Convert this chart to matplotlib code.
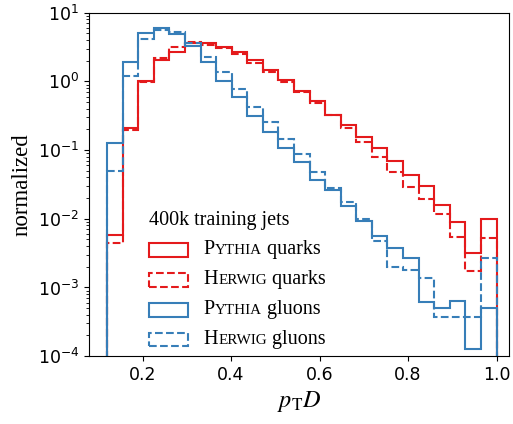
import numpy as np
import matplotlib
matplotlib.use("Agg")
import matplotlib.pyplot as plt
from matplotlib.patches import Rectangle
from matplotlib.offsetbox import TextArea, HPacker, VPacker, DrawingArea, AnchoredOffsetbox

SERIF = "Liberation Serif"
plt.rcParams["mathtext.fontset"] = "stix"

# 25 bins between 0.12 and 1.0
edges = np.linspace(0.12, 1.0, 26)

pythia_quarks = [0.0059, 0.21, 1.0, 2.05, 2.7, 3.6, 3.6, 3.2, 2.67, 2.07, 1.48, 1.05, 0.73,
                 0.51, 0.326, 0.233, 0.154, 0.107, 0.070, 0.0435, 0.030, 0.0159, 0.0091,
                 0.00314, 0.0098]
herwig_quarks = [0.0045, 0.195, 0.97, 2.2, 3.2, 3.7, 3.4, 3.05, 2.5, 1.85, 1.37, 0.97, 0.70,
                 0.48, 0.32, 0.208, 0.130, 0.080, 0.0487, 0.0294, 0.0195, 0.0117, 0.0055,
                 0.00175, 0.0052]
pythia_gluons = [0.125, 1.93, 5.0, 6.0, 4.9, 3.3, 1.9, 1.02, 0.59, 0.315, 0.186, 0.109, 0.068,
                 0.037, 0.026, 0.0155, 0.0093, 0.0057, 0.0037, 0.00266, 0.00062, 0.000495,
                 0.00064, 0.000126, 0.000495]
herwig_gluons = [0.05, 1.21, 4.14, 5.6, 5.2, 3.6, 2.3, 1.37, 0.78, 0.43, 0.258, 0.146, 0.087,
                 0.0476, 0.0278, 0.0178, 0.0098, 0.0048, 0.0020, 0.0018, 0.00139, 0.000374,
                 0.00037, 0.00037, 0.00266]

red = "#e41a1c"
blue = "#377eb8"

series = [
    (pythia_quarks, red, "-", ("P", "YTHIA", " quarks")),
    (herwig_quarks, red, "--", ("H", "ERWIG", " quarks")),
    (pythia_gluons, blue, "-", ("P", "YTHIA", " gluons")),
    (herwig_gluons, blue, "--", ("H", "ERWIG", " gluons")),
]

fig = plt.figure(figsize=(5.13, 4.24), dpi=100)
ax = fig.add_axes([0.1735, 0.160, 0.8185, 0.810])

for vals, col, ls, _ in series:
    ax.stairs(vals, edges, baseline=1e-6, color=col, ls=ls, lw=1.5)

ax.set_yscale("log")
ax.set_ylim(1e-4, 1e1)
ax.set_xlim(0.079, 1.028)
ax.set_xticks([0.2, 0.4, 0.6, 0.8, 1.0])
ax.tick_params(labelsize=12.5)
ax.set_ylabel("normalized", family=SERIF, fontsize=16.5)
ax.set_xlabel(r"$p_\mathrm{T}D$", fontsize=17.5)

# legend with small caps generator names
fs = 14.5
rows = [TextArea("400k training jets", textprops=dict(family=SERIF, fontsize=fs))]
for vals, col, ls, (big, small, rest) in series:
    da = DrawingArea(28, 10, 0, 0)
    da.add_artist(Rectangle((0, 0), 28, 10, fill=False, edgecolor=col, ls=ls, lw=1.5))
    txt = HPacker(children=[
        TextArea(big, textprops=dict(family=SERIF, fontsize=fs)),
        TextArea(small, textprops=dict(family=SERIF, fontsize=fs * 0.75)),
        TextArea(rest, textprops=dict(family=SERIF, fontsize=fs)),
    ], align="baseline", pad=0, sep=0)
    rows.append(HPacker(children=[da, txt], align="center", pad=0, sep=11.5))
box = VPacker(children=rows, align="left", pad=0, sep=7.8)
anch = AnchoredOffsetbox(loc="lower left", child=box, pad=0, borderpad=0, frameon=False,
                         bbox_to_anchor=(0.143, 0.021), bbox_transform=ax.transAxes)
ax.add_artist(anch)

fig.savefig("out.png", dpi=100)
